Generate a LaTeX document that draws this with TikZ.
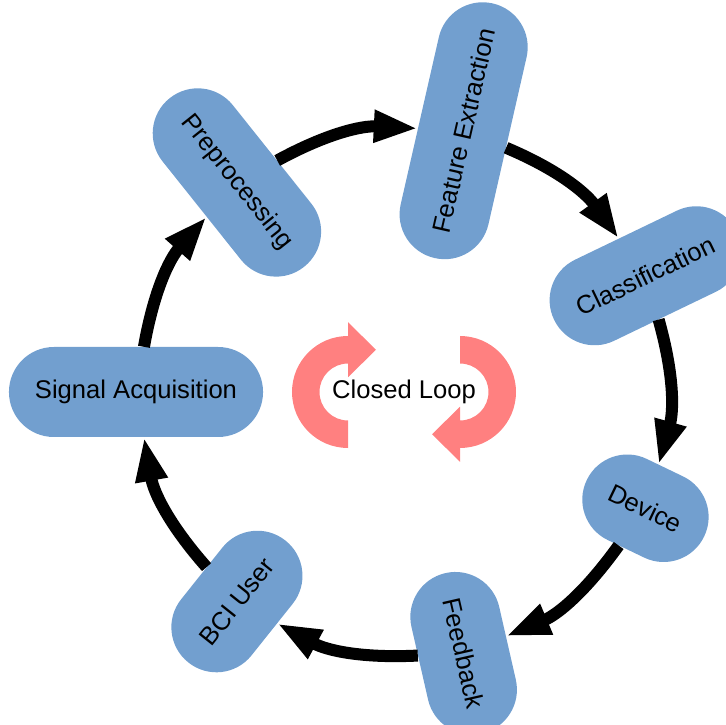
\documentclass[tikz,border=0pt]{standalone}
\usepackage{fontspec}
\setmainfont{Liberation Sans}
\usetikzlibrary{arrows.meta}
\definecolor{stageblue}{HTML}{729FCF}
\definecolor{loopred}{HTML}{FF8080}
\tikzset{
  stage/.style={fill=stageblue,rounded corners=44.9pt,minimum height=90pt,inner xsep=26pt,font=\fontsize{25.6}{30}\selectfont},
  flow/.style={line width=12pt,-{Triangle[length=44pt,width=30pt]}},
  loopfill/.style={fill=loopred}
}
\begin{document}
\begin{tikzpicture}[x=1pt,y=1pt]
  % Stages sit on a circle of radius 268 around the centre, 360/7 degrees apart.
  \useasboundingbox (-404,-333) rectangle (321,392);
  \foreach \r in {0,180}{
    \fill[loopfill,rotate=\r] (-56,56) arc[start angle=90,end angle=270,radius=56] -- (-56,-28.5)
      arc[start angle=270,end angle=90,radius=28.5] -- (-56,14.75) -- (-28,42.25) -- (-56,69.75) -- cycle;
  }
  \node[font=\fontsize{25.6}{30}\selectfont] (loop) at (0,0) {Closed Loop};
  \node[stage] (sa) at (180:268) {Signal Acquisition};
  \node[stage,rotate=-51.43] (pre) at (128.57:268) {Preprocessing};
  \node[stage,rotate=77.14] (fe) at (77.14:268) {Feature Extraction};
  \node[stage,rotate=25.71] (cls) at (25.71:268) {Classification};
  \node[stage,rotate=-25.71] (dev) at (-25.71:268) {Device};
  \node[stage,rotate=-77.14] (fb) at (-77.14:268) {Feedback};
  \node[stage,rotate=51.43] (user) at (-128.57:268) {BCI User};
  \foreach \src/\sr/\dst/\dr [count=\k from 0] in {sa/0/pre/-51.43,pre/-51.43/fe/77.14,fe/77.14/cls/25.71,cls/25.71/dev/-25.71,dev/-25.71/fb/-77.14,fb/-77.14/user/51.43,user/51.43/sa/0}{
    \pgfmathsetmacro\outa{80-\k*360/7}
    \pgfmathsetmacro\ina{228.57-\k*360/7}
    \pgfmathsetmacro\sanc{\outa-\sr}
    \pgfmathsetmacro\danc{\ina-\dr}
    \draw[flow] (\src.\sanc) to[out=\outa,in=\ina] (\dst.\danc);
  }
\end{tikzpicture}
\end{document}
